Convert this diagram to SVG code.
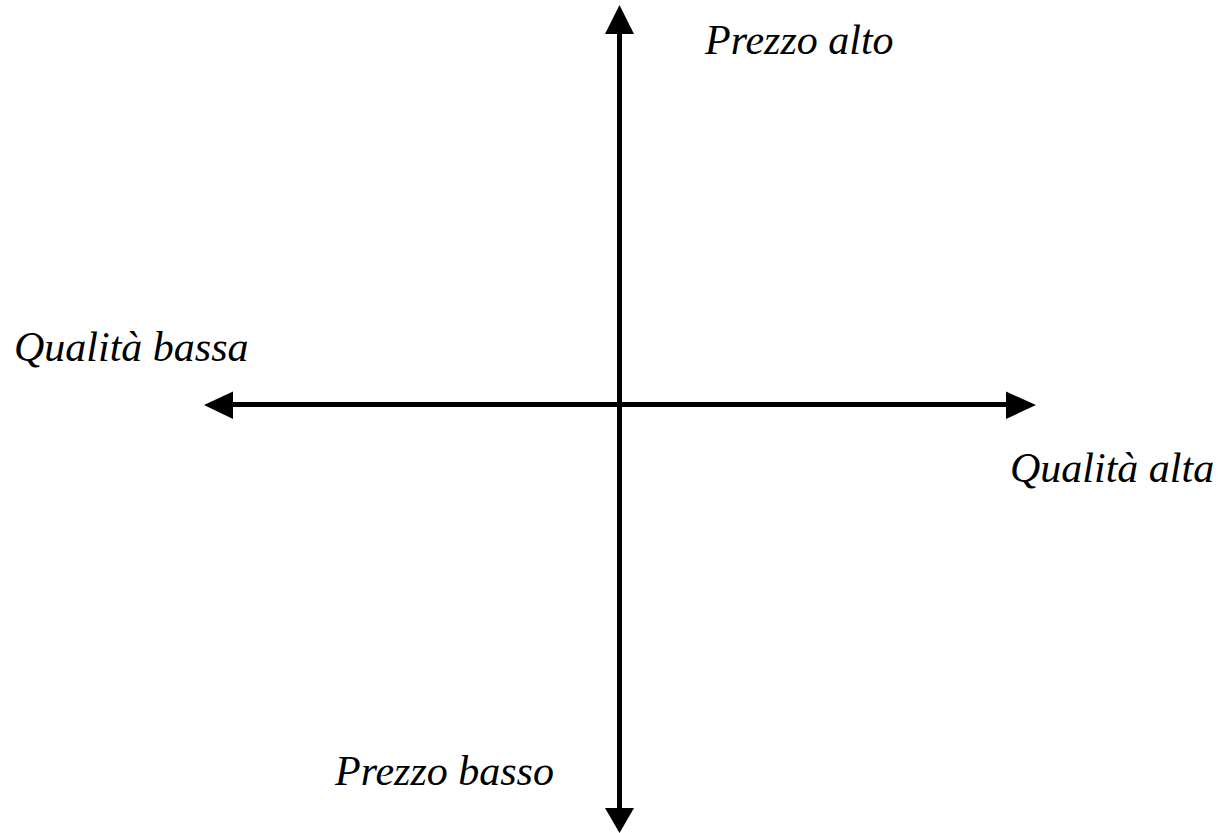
<svg xmlns="http://www.w3.org/2000/svg" width="1221" height="833" viewBox="0 0 1221 833">
<style>
.lbl{font-family:"Liberation Serif","Times New Roman",serif;font-style:italic;font-size:42px;fill:#000}
.ax{stroke:#000;stroke-width:5;fill:none}
.hd{fill:#000}
</style>
<rect width="1221" height="833" fill="#fff"/>
<g id="connectors">
<line class="ax" x1="619.5" y1="30" x2="619.5" y2="810"/>
<polygon class="hd" points="619.5,5 605,34 634,34"/>
<polygon class="hd" points="619.5,833 605,808 634,808"/>
<line class="ax" x1="230" y1="404.5" x2="1010" y2="404.5"/>
<polygon class="hd" points="204,405 233,391.5 233,419"/>
<polygon class="hd" points="1036,405 1006,391.5 1006,419"/>
</g>
<g id="prezzo-alto"><text class="lbl" x="705" y="54">Prezzo alto</text></g>
<g id="prezzo-basso"><text class="lbl" x="335" y="785">Prezzo basso</text></g>
<g id="qualita-bassa"><text class="lbl" x="14" y="361">Qualità bassa</text></g>
<g id="qualita-alta"><text class="lbl" x="1010" y="482">Qualità alta</text></g>
</svg>
